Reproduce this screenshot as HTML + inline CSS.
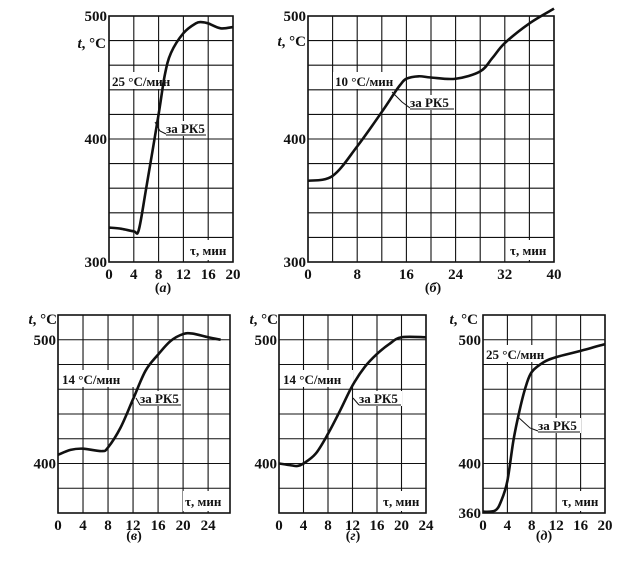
<!DOCTYPE html>
<html><head><meta charset="utf-8"><style>
html,body{margin:0;padding:0;background:#fff;width:625px;height:562px;overflow:hidden}
svg{display:block}
text{font-family:"Liberation Serif",serif;font-weight:bold;fill:#111}
</style></head><body>
<svg id="fig" width="625" height="562" viewBox="0 0 625 562" xmlns="http://www.w3.org/2000/svg"></svg>
<script>
// Data (time in min, temperature in °C)
const aTime=[0,2,4,4.8,6,8,9,10,12,14,15,16,18,20];
const aTemp=[328,327,325,326,360,420,452,470,486,494,495,494,490,491];
const bTime=[0,4,8,12,14,15,16,18,20,24,28,30,32,36,40];
const bTemp=[366,370,394,422,437,444,449,451,450,449,455,466,478,494,506];
const vTime=[0,2,4,7,8,10,12,14,16,18,20,21.5,24,26];
const vTemp=[407,411,412,410,413,429,452,475,488,499,504.6,505,502,500];
const gTime=[0,2,3,4,6,8,10,12,14,16,18,20,24];
const gTemp=[400,398.5,398,400,408,424,443,463,478,488.5,496.5,502,502];
const dTime=[0,2,3,4,5,6,7,8,10,12,16,20];
const dTemp=[361,362,370,386,419,443,462,474,482,486,491,496.5];
const aXTicks=[0,4,8,12,16,20], aYTicks=[300,400,500];
const bXTicks=[0,8,16,24,32,40], bYTicks=[300,400,500];
const vXTicks=[0,4,8,12,16,20,24], vYTicks=[400,500];
const gXTicks=[0,4,8,12,16,20,24], gYTicks=[400,500];
const dXTicks=[0,4,8,12,16,20], dYTicks=[360,400,500];

const NS="http://www.w3.org/2000/svg";
const svg=document.getElementById('fig');
function mk(tag,attrs,parent){const e=document.createElementNS(NS,tag);for(const k in attrs)e.setAttribute(k,attrs[k]);(parent||svg).appendChild(e);return e;}
function txt(s,x,y,anchor,size,parent){const t=mk('text',{x:x,y:y,'text-anchor':anchor||'start','font-size':size||14},parent);t.textContent=s;return t;}

function panel(id,P,xs,ys,xt,yt,rate,rateBox,pkBox,leader,tauX,capX,capY,tLabelX,tLabelY){
  const g=mk('g',{});
  
  
  const X=v=>P.l+(v-P.xmin)/(P.xmax-P.xmin)*(P.r-P.l);
  const Y=v=>P.b-(v-P.ymin)/(P.ymax-P.ymin)*(P.b-P.t);
  const grid=mk('g',{stroke:'#111','stroke-width':1.1},g);
  
  
  for(let v=P.xmin;v<=P.xmax+1e-6;v+=P.xs){mk('line',{x1:X(v),x2:X(v),y1:P.t,y2:P.b},grid);}
  for(let v=P.ymin;v<=P.ymax+1e-6;v+=P.ys){mk('line',{x1:P.l,x2:P.r,y1:Y(v),y2:Y(v)},grid);}
  mk('rect',{x:P.l,y:P.t,width:P.r-P.l,height:P.b-P.t,fill:'none',stroke:'#111','stroke-width':1.6},g);
  xt.forEach(v=>{const t=txt(String(v),X(v),P.b+17,'middle',15,g);
    
    });
  yt.forEach(v=>{const t=txt(String(v),P.l-2,Y(v)+5,'end',15,g);
    
    });
  mk('rect',{x:rateBox[0],y:rateBox[1],width:rateBox[2],height:rateBox[3],fill:'#fff'},g);
  mk('rect',{x:tauX-2,y:P.b-22,width:P.r-tauX+1,height:20,fill:'#fff'},g);
  const pts=xs.map((x,i)=>[X(x),Y(ys[i])]);
  let d='M'+pts[0][0]+','+pts[0][1];
  for(let i=0;i<pts.length-1;i++){
    const p0=pts[Math.max(0,i-1)],p1=pts[i],p2=pts[i+1],p3=pts[Math.min(pts.length-1,i+2)];
    const c1=[p1[0]+(p2[0]-p0[0])/6,p1[1]+(p2[1]-p0[1])/6];
    const c2=[p2[0]-(p3[0]-p1[0])/6,p2[1]-(p3[1]-p1[1])/6];
    d+=' C'+c1[0]+','+c1[1]+' '+c2[0]+','+c2[1]+' '+p2[0]+','+p2[1];
  }
  const c=mk('path',{d:d,fill:'none',stroke:'#111','stroke-width':2.6,'stroke-linejoin':'round'},g);
  
  
  const r=txt(rate,rateBox[0]+2,rateBox[1]+rateBox[3]-3,'start',13,g);
  
  
  mk('rect',{x:pkBox[0]-1,y:pkBox[1]-12,width:pkBox[2]+2,height:15,fill:'#fff'},g);
  const pk=txt('за РК5',pkBox[0],pkBox[1],'start',13,g);
  
  
  mk('line',{x1:pkBox[0],x2:pkBox[0]+pkBox[2],y1:pkBox[1]+2,y2:pkBox[1]+2,stroke:'#111','stroke-width':1},g);
  mk('polyline',{points:leader,fill:'none',stroke:'#111','stroke-width':1},g);
  const tau=txt('τ, мин',tauX,P.b-7,'start',13,g);
  
  
  const tl=txt('',tLabelX,tLabelY,'end',15,g);
  tl.innerHTML='<tspan font-style="italic">t</tspan>, °C';
  
  
  const cap=txt('',capX,capY,'middle',14,g);
  cap.innerHTML='(<tspan font-style="italic">'+id+'</tspan>)';
  
  
}
panel('а',{l:109,r:233,t:16,b:262,xmin:0,xmax:20,ymin:300,ymax:500,xs:4,ys:20},aTime,aTemp,aXTicks,aYTicks,
  '25 °C/мин',[110,72,60,17],[166,133,40],'155,122 160,131 166,134',190,163,292,106,48);
panel('б',{l:308,r:554,t:16,b:262,xmin:0,xmax:40,ymin:300,ymax:500,xs:4,ys:20},bTime,bTemp,bXTicks,bYTicks,
  '10 °C/мин',[333,72,70,17],[410,107,44],'392,92 402,102 410,108',510,433,292,306,46);
panel('в',{l:58,r:230,t:315,b:513,xmin:0,xmax:27.5,ymin:360,ymax:520,xs:4,ys:20},vTime,vTemp,vXTicks,vYTicks,
  '14 °C/мин',[60,370,76,17],[140,403,41],'136,398 140,405',185,134,540,57,324);
panel('г',{l:279,r:426,t:315,b:513,xmin:0,xmax:24,ymin:360,ymax:520,xs:4,ys:20},gTime,gTemp,gXTicks,gYTicks,
  '14 °C/мин',[281,370,72,17],[359,403,42],'353,398 359,405',383,353,540,278,324);
panel('д',{l:483,r:605,t:315,b:513,xmin:0,xmax:20,ymin:360,ymax:520,xs:4,ys:20},dTime,dTemp,dXTicks,dYTicks,
  '25 °C/мин',[484,345,66,17],[538,430,42],'518,417 530,428 538,431',562,544,540,478,324);
</script>
</body></html>
